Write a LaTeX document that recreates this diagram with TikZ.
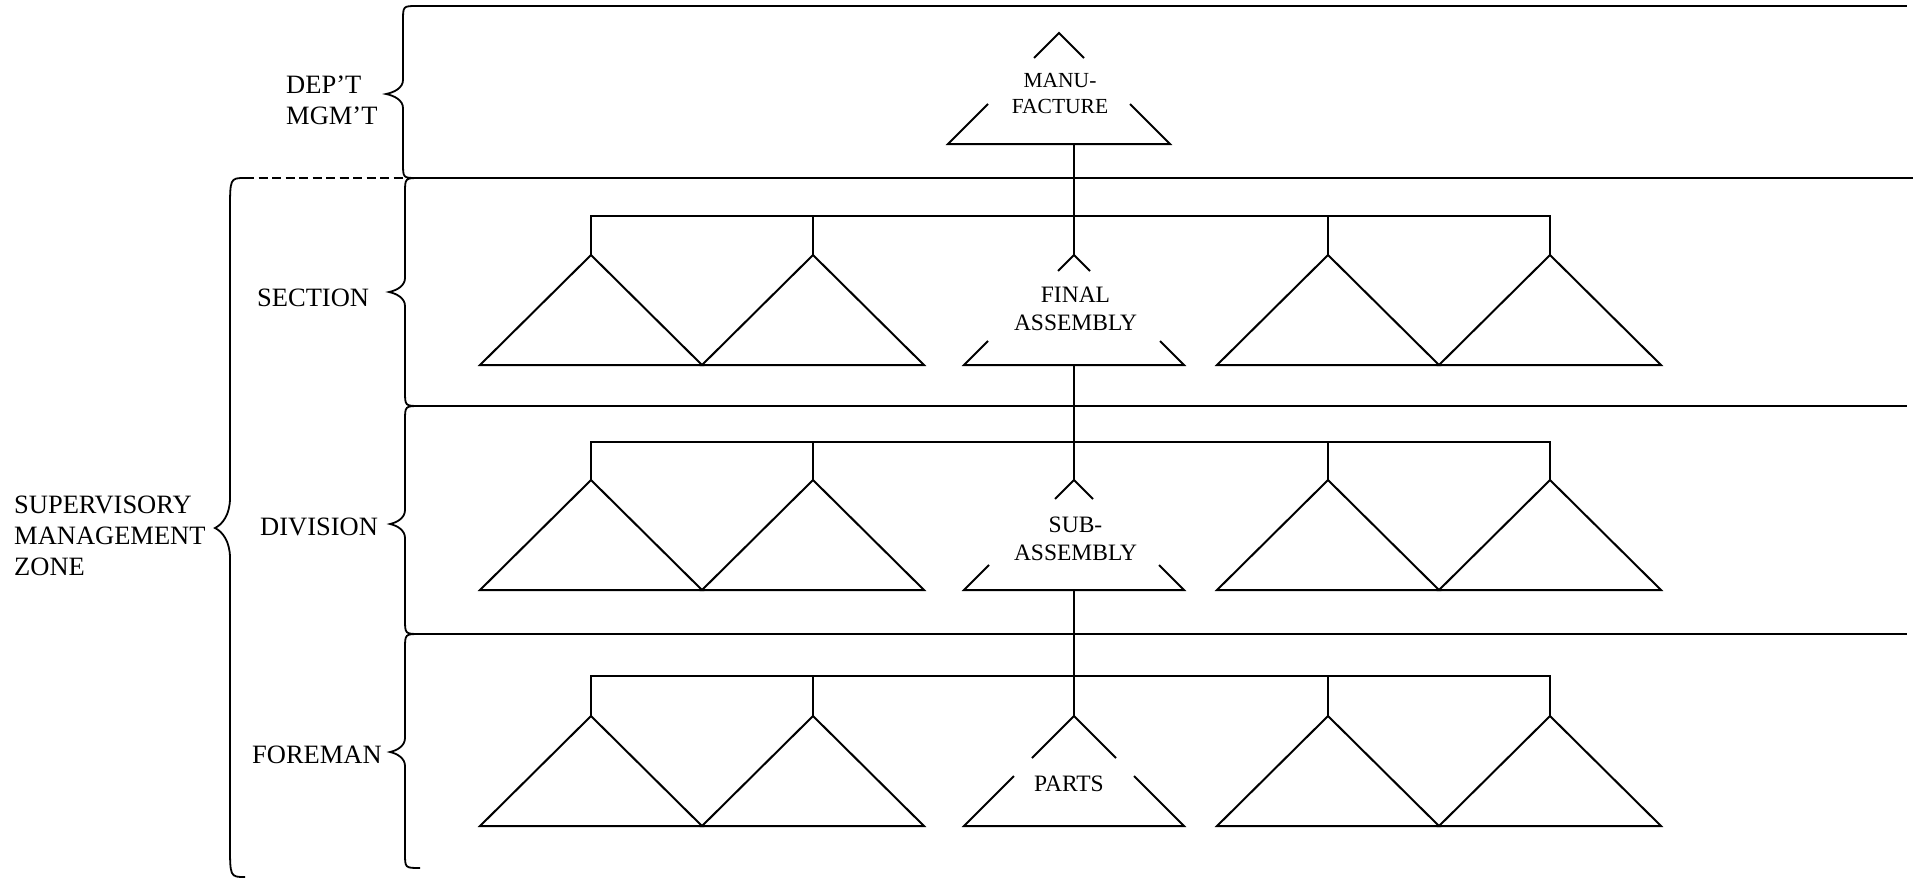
\documentclass[tikz,border=0pt]{standalone}
\usepackage{fontspec}
\setmainfont{Liberation Serif}
\newcommand{\mybrace}[8]{% #1 end x, #2 spine x, #3 tip x, #4 top y, #5 tip y, #6 bottom y, #7 corner r, #8 tip r
  \draw[brc] (#1,#4) .. controls (#2,#4) .. (#2,{#4+#7})
     -- (#2,{#5-#8}) .. controls (#2,{#5-0.45*#8}) and ({0.5*#2+0.5*#3},{#5-0.12*#8}) .. (#3,#5)
     .. controls ({0.5*#2+0.5*#3},{#5+0.12*#8}) and (#2,{#5+0.45*#8}) .. (#2,{#5+#8})
     -- (#2,{#6-#7}) .. controls (#2,#6) .. (#1,#6);
}
\newcommand{\ctri}[6]{% #1 name, #2 apex x, #3 apex y, #4 half width (=height), #5 top gap, #6 bottom gap
  \coordinate (#1-a) at (#2,#3);
  \coordinate (#1-b) at (1074,{#3+#4});
  \draw[tri] ({#2-#5},{#3+#5}) -- (#1-a) -- ({#2+#5},{#3+#5});
  \draw[tri] ({#2-#4+#6},{#3+#4-#6}) -- ({#2-#4},{#3+#4}) -- ({#2+#4},{#3+#4}) -- ({#2+#4-#6},{#3+#4-#6});
}
\newcommand{\trow}[3]{% #1 row name, #2 bar y, #3 apex y
  \foreach \n/\x in {a/591,b/813,c/1328,d/1550}{
    \coordinate (#1\n) at (\x,#3);
    \draw[tri] ({\x-111},{#3+110}) -- (\x,#3) -- ({\x+111},{#3+110}) -- cycle;
  }
  \coordinate (#1bar) at (1074,#2);
  \draw[tri] (#1a) |- (#1bar) -| (#1d);
  \draw[tri] (#1b) -- (#1b |- #1bar);
  \draw[tri] (#1c) -- (#1c |- #1bar);
}
\begin{document}
\begin{tikzpicture}[x=1pt,y=-1pt,
  hl/.style={line width=2pt},
  tri/.style={line width=2pt, line join=miter},
  brc/.style={line width=1.8pt},
  spine/.style={line width=2pt},
  lvl/.style={inner sep=0pt, anchor=base west, align=left, font=\fontsize{26.5}{30.7}\selectfont},
  tlab/.style={inner sep=0pt, anchor=base, align=center, font=\fontsize{23.5}{28}\selectfont},
]
\useasboundingbox (0,0) rectangle (1919,879);
\fill[white] (0,0) rectangle (1919,879);

% horizontal zone lines
\draw[hl] (417,6) -- (1907,6);
\draw[hl] (417,178) -- (1913,178);
\draw[hl] (420,406) -- (1907,406);
\draw[hl] (420,634) -- (1907,634);
\draw[hl, dash pattern=on 9pt off 4.5pt] (245,178) -- (417,178);

% braces
\mybrace{417}{403}{386}{6}{94}{178}{15}{14}
\mybrace{420}{405}{389}{178}{292}{406}{15}{14}
\mybrace{420}{405}{390}{406}{524}{634}{15}{14}
\mybrace{420}{405}{390}{634}{752}{868}{15}{14}
\mybrace{245}{230}{215}{178}{528}{877}{34}{30}

% level labels (anchor = baseline of last line)
\node[lvl] (dept) at (286,124) {DEP’T\\MGM’T};
\node[lvl] (section) at (257,306.7) {SECTION};
\node[lvl] (division) at (260,535) {DIVISION};
\node[lvl] (foreman) at (252,763) {FOREMAN};
\node[lvl] (smz) at (14,575) {SUPERVISORY\\MANAGEMENT\\ZONE};

% side trees
\trow{s}{216}{255}
\trow{v}{442}{480}
\trow{f}{676}{716}

% central triangles
\ctri{manu}{1059}{33}{111}{25}{40}
\ctri{final}{1074}{255}{110}{16}{24}
\ctri{sub}{1074}{480}{110}{19}{25}
\ctri{parts}{1074}{716}{110}{42}{50}

\node[tlab, font=\fontsize{21.5}{26}\selectfont] (manutxt) at (1060,113) {MANU-\\FACTURE};
\node[tlab] (finaltxt) at (1075.5,330.7) {FINAL\\ASSEMBLY};
\node[tlab] (subtxt) at (1075.5,560) {SUB-\\ASSEMBLY};
\node[tlab] (partstxt) at (1069,791.7) {PARTS};

% spine connectors
\draw[spine] (manu-b) -- (final-a);
\draw[spine] (final-b) -- (sub-a);
\draw[spine] (sub-b) -- (parts-a);
\end{tikzpicture}
\end{document}
